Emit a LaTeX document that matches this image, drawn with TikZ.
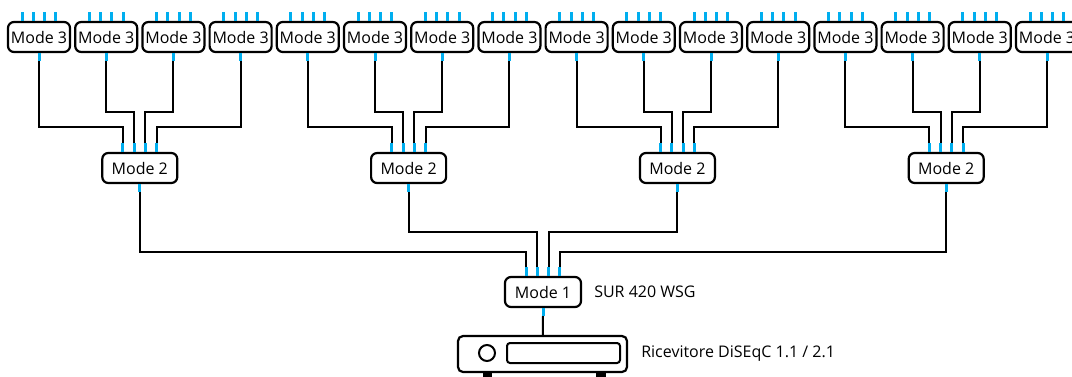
\documentclass[tikz,border=0pt]{standalone}
\usepackage{fontspec}
\setmainfont{Open Sans}
\usetikzlibrary{calc}
\definecolor{portcyan}{HTML}{00AEEF}
\tikzset{
  modebox/.style={draw, line width=2.2pt, rounded corners=6pt, minimum height=30pt, inner sep=0pt},
  port/.style={portcyan, line width=3pt},
  cable/.style={line width=2pt}
}
\begin{document}
\begin{tikzpicture}[x=1pt, y=-1pt, font=\fontsize{16}{19}\selectfont]
    \useasboundingbox (0,0) rectangle (1072,376);

    % Mode 3
    \foreach \i in {1,...,16} {
        \node[modebox, minimum width=62pt] (m3-\i) at ({39+67.2*(\i-1)},37) {Mode 3};
        \foreach \dx in {-16.9,-5.6,5.6,16.9}
            \draw[port] ($(m3-\i.north)+(\dx,0)$) -- ++(0,-9);
        \draw[port] (m3-\i.south) -- ++(0,8) coordinate (m3-\i-out);
    }

    % Mode 2
    \foreach \j in {1,...,4} {
        \node[modebox, minimum width=75pt] (m2-\j) at ({139.8+268.8*(\j-1)},168) {Mode 2};
        \foreach \k/\dx in {1/-16.9,2/-5.6,3/5.6,4/16.9}
            \draw[port] ($(m2-\j.north)+(\dx,0)$) -- ++(0,-9) coordinate (m2-\j-in\k);
        \draw[port] (m2-\j.south) -- ++(0,8) coordinate (m2-\j-out);
    }

    % Cavi Mode 3 -> Mode 2
    \foreach \j in {1,...,4}
        \foreach \k/\h in {1/16,2/31,3/31,4/16} {
            \pgfmathtruncatemacro\a{4*(\j-1)+\k}
            \draw[cable] (m3-\a-out) |- ($(m2-\j-in\k)+(0,-\h)$) -- (m2-\j-in\k);
        }

    % Mode 1
    \node[modebox, minimum width=76pt] (m1) at (543,292) {Mode 1};
    \foreach \k/\dx in {1/-16.9,2/-5.6,3/5.6,4/16.9}
        \draw[port] ($(m1.north)+(\dx,0)$) -- ++(0,-9) coordinate (m1-in\k);
    \draw[port] (m1.south) -- ++(0,8) coordinate (m1-out);
    \node[anchor=west, inner sep=0pt] (sur) at ([xshift=12pt]m1.east) {SUR 420 WSG};

    % Cavi Mode 2 -> Mode 1
    \foreach \k/\h in {1/15,2/35,3/35,4/15}
        \draw[cable] (m2-\k-out) |- ($(m1-in\k)+(0,-\h)$) -- (m1-in\k);

    % Ricevitore
    \fill (483,370) rectangle (492,380);
    \fill (596,370) rectangle (606,380);
    \node[draw, fill=white, line width=2.2pt, rounded corners=5pt, minimum width=169pt, minimum height=36pt] (rx) at (542.5,354) {};
    \node[draw, circle, line width=2pt, minimum size=16pt, inner sep=0pt] (led) at (487,353) {};
    \node[draw, line width=2pt, rounded corners=3pt, minimum width=113pt, minimum height=20pt] (slot) at (563.5,353) {};
    \draw[cable] (m1-out) -- (rx);
    \node[anchor=west, inner sep=0pt] (rxlabel) at ([xshift=13pt]rx.east) {Ricevitore DiSEqC 1.1 / 2.1};
\end{tikzpicture}
\end{document}
